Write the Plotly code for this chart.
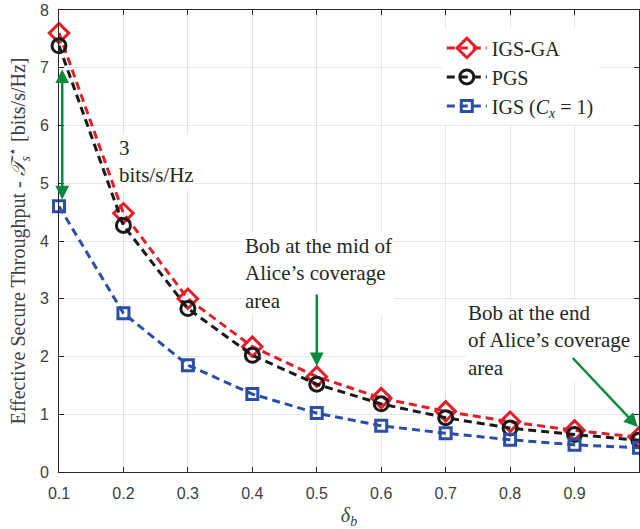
import plotly.graph_objects as go

# Normalised distance of Bob from Alice
delta_b = [0.1, 0.2, 0.3, 0.4, 0.5, 0.6, 0.7, 0.8, 0.9, 1.0]

# Effective secure throughput [bits/s/Hz]
igs_ga = [7.6, 4.48, 3.0, 2.17, 1.65, 1.28, 1.05, 0.87, 0.72, 0.6]
pgs = [7.38, 4.27, 2.83, 2.02, 1.52, 1.18, 0.94, 0.76, 0.65, 0.55]
igs_cx1 = [4.6, 2.75, 1.85, 1.35, 1.02, 0.8, 0.67, 0.56, 0.47, 0.42]

x_ticks = [0.1, 0.2, 0.3, 0.4, 0.5, 0.6, 0.7, 0.8, 0.9]
y_ticks = [0, 1, 2, 3, 4, 5, 6, 7, 8]

RED = "#E41E26"
BLACK = "#1A1A1A"
BLUE = "#2B4FA6"
GREEN = "#0A8A3E"
SERIF = "Liberation Serif"
SANS = "Liberation Sans"

fig = go.Figure()
series = [
    ("IGS-GA", igs_ga, RED, "diamond-open", 15),
    ("PGS", pgs, BLACK, "circle-open", 14),
    ("IGS (<i>C<sub>x</sub></i> = 1)", igs_cx1, BLUE, "square-open", 11),
]
for name, ys, col, sym, sz in series:
    fig.add_trace(go.Scatter(
        x=delta_b, y=ys, name=name, mode="lines+markers",
        line=dict(color=col, width=3, dash="8px,5px"),
        marker=dict(symbol=sym, size=sz, color=col, line=dict(width=3, color=col)),
        cliponaxis=False,
    ))

axis_common = dict(
    showline=True, linecolor="#262626", linewidth=1, mirror="ticks",
    ticks="inside", ticklen=5, tickcolor="#262626",
    showgrid=True, gridcolor="#E6E6E6", gridwidth=1, zeroline=False,
    tickfont=dict(family=SANS, size=16, color="#404040"),
)
fig.update_xaxes(range=[0.1, 1.0], tickvals=x_ticks,
                 ticktext=[f"{v:.1f}" for v in x_ticks],
                 ticklabelstandoff=7,
                 title=dict(text="<i>δ<sub>b</sub></i>",
                            font=dict(family=SERIF, size=20, color="#404040"),
                            standoff=8),
                 **axis_common)
fig.update_yaxes(range=[0, 8], tickvals=y_ticks,
                 ticklabelstandoff=6,
                 title=dict(text="Effective Secure Throughput - <i>𝒯</i><sub><i>s</i></sub><sup>⋆</sup> [bits/s/Hz]",
                            font=dict(family=SERIF, size=20, color="#404040"),
                            standoff=8),
                 **axis_common)

# Text boxes first, so the arrows are drawn over them
ann_font = dict(family=SERIF, size=21, color="#262626")
fig.add_annotation(x=0.19, y=5.85, xref="x", yref="y", xanchor="left", yanchor="top",
                   align="left", showarrow=False, bgcolor="white",
                   text="3<br>bits/s/Hz", font=ann_font)
fig.add_annotation(x=0.385, y=4.16, xref="x", yref="y", xanchor="left", yanchor="top",
                   align="left", showarrow=False, bgcolor="white",
                   text="Bob at the mid of<br>Alice’s coverage<br>area", font=ann_font)
fig.add_annotation(x=0.732, y=3.0, xref="x", yref="y", xanchor="left", yanchor="top",
                   align="left", showarrow=False, bgcolor="white",
                   text="Bob at the end<br>of Alice’s coverage<br>area", font=ann_font)

fig.add_annotation(x=0.105, y=4.72, ax=0.105, ay=7.0, xref="x", yref="y",
                   axref="x", ayref="y", showarrow=True, arrowhead=2,
                   startarrowhead=2, arrowside="end+start", arrowwidth=2.5,
                   arrowsize=1.1, startarrowsize=1.1, arrowcolor=GREEN, text="")
fig.add_annotation(x=0.5, y=1.83, ax=0.5, ay=3.1, xref="x", yref="y",
                   axref="x", ayref="y", showarrow=True, arrowhead=2,
                   arrowwidth=2.5, arrowsize=1.1, arrowcolor=GREEN, text="")
fig.add_annotation(x=0.998, y=0.78, ax=0.895, ay=2.0, xref="x", yref="y",
                   axref="x", ayref="y", showarrow=True, arrowhead=2,
                   arrowwidth=2.5, arrowsize=1.1, arrowcolor=GREEN, text="")

fig.update_layout(
    width=640, height=529,
    margin=dict(l=59, r=1, t=10, b=57),
    plot_bgcolor="white", paper_bgcolor="white",
    legend=dict(x=0.66, y=0.96, xanchor="left", yanchor="top",
                bgcolor="white", borderwidth=0,
                font=dict(family=SERIF, size=20, color="#262626"),
                tracegroupgap=0, itemwidth=40),
)

fig.write_html("out.html")
